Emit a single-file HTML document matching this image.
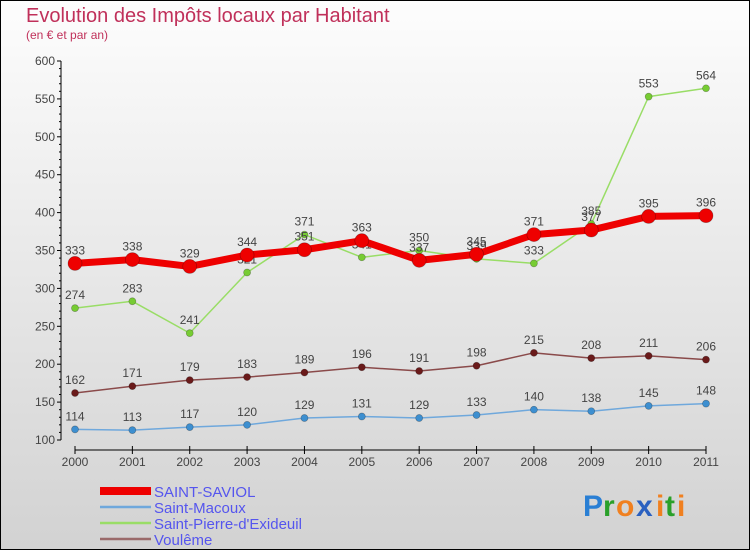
<!DOCTYPE html>
<html><head><meta charset="utf-8"><style>
html,body{margin:0;padding:0}
body{width:750px;height:550px;overflow:hidden;font-family:"Liberation Sans",sans-serif}
svg{display:block}
</style></head><body>
<svg id="chart" width="750" height="550" viewBox="0 0 750 550">
<defs><linearGradient id="bg" x1="0" y1="0" x2="0" y2="1"><stop offset="0" stop-color="#fdfdfd"/><stop offset="1" stop-color="#d2d2d2"/></linearGradient></defs>
<rect x="0.5" y="0.5" width="749" height="549" fill="url(#bg)" stroke="#000"/>
<text x="26" y="22" font-size="20" fill="#c0305a">Evolution des Impôts locaux par Habitant</text>
<text x="26" y="39" font-size="12" fill="#c0305a">(en € et par an)</text>
<g id="axes"></g>
<g id="series"></g>
<g id="legend" font-size="15" fill="#5555ee"></g>
<g font-size="30" font-weight="bold">
<text x="583" y="516" fill="#2a7fd4">P</text><text x="603" y="516" fill="#2aa02a">r</text><text x="616" y="516" fill="#f08020">o</text><text x="636" y="516" fill="#2a60c0">x</text><text x="656" y="516" fill="#f08020">i</text><text x="665" y="516" fill="#2aa02a">t</text><text x="677" y="516" fill="#f08020">i</text>
</g>
</svg>
<script>
const years=['2000','2001','2002','2003','2004','2005','2006','2007','2008','2009','2010','2011'];
const yTicks=[100,150,200,250,300,350,400,450,500,550,600];
const saintSaviol=[333,338,329,344,351,363,337,345,371,377,395,396];
const saintMacoux=[114,113,117,120,129,131,129,133,140,138,145,148];
const saintPierre=[274,283,241,321,371,341,350,339,333,385,553,564];
const voulême=[162,171,179,183,189,196,191,198,215,208,211,206];
const NS='http://www.w3.org/2000/svg';
const x=i=>75+i*(706-75)/(years.length-1);
const y=v=>440-(v-100)*(440-61)/500;
function mk(tag,attrs,parent){const e=document.createElementNS(NS,tag);for(const k in attrs)e.setAttribute(k,attrs[k]);parent.appendChild(e);return e;}
const axes=document.getElementById('axes');
const ya=mk('line',{x1:61,y1:61,x2:61,y2:440,stroke:'#000'},axes);


yTicks.forEach(t=>{
 const tk=mk('line',{x1:57,y1:y(t),x2:61,y2:y(t),stroke:'#000'},axes);
 
 
 const lb=mk('text',{x:55,y:y(t)+4,'font-size':12,fill:'#444','text-anchor':'end'},axes);
 lb.textContent=t;
 
 
});
for(let v=110;v<600;v+=10){if(v%50){const m=mk('line',{x1:59,y1:y(v),x2:61,y2:y(v),stroke:'#000'},axes);
 
 }}
const xa=mk('line',{x1:75,y1:450,x2:706,y2:450,stroke:'#000'},axes);


years.forEach((yr,i)=>{
 const tk=mk('line',{x1:x(i),y1:446,x2:x(i),y2:454,stroke:'#000'},axes);
 
 
 const lb=mk('text',{x:x(i),y:466,'font-size':12,fill:'#444','text-anchor':'middle'},axes);
 lb.textContent=yr;
 
 
});
const seriesG=document.getElementById('series');
function draw(data,color,dot,w,r,name){
 const g=mk('g',{},seriesG);
 
 
 const p=mk('polyline',{points:data.map((v,i)=>x(i)+','+y(v)).join(' '),fill:'none',stroke:color,'stroke-width':w,'stroke-linejoin':'round'},g);
 
 
 data.forEach((v,i)=>{
  const c=mk('circle',{cx:x(i),cy:y(v),r:r,fill:dot,stroke:'rgba(0,0,0,0.3)','stroke-width':0.7},g);
  
  
  const t=mk('text',{x:x(i),y:y(v)-9,'font-size':12,fill:'#444','text-anchor':'middle'},g);
  t.textContent=v;
  
  
 });
}
draw(saintMacoux,'#6fa8dc','#3d8fd0',1.5,3.5,'saint-macoux');
draw(voulême,'#8a4a4a','#6a1a1a',1.5,3.5,'voulême');
draw(saintPierre,'#99dd66','#77cc33',1.5,3.5,'saint-pierre');
draw(saintSaviol,'#ee0000','#ee0000',7,7,'saint-saviol');
const leg=document.getElementById('legend');
[['SAINT-SAVIOL','#ee0000',8],['Saint-Macoux','#6fa8dc',2.5],['Saint-Pierre-d\'Exideuil','#99dd66',2.5],['Voulême','#9a6a6a',2.5]].forEach((e,i)=>{
 const yy=491+i*16;
 const l=mk('line',{x1:100,y1:yy,x2:151,y2:yy,stroke:e[1],'stroke-width':e[2]},leg);
 
 
 const t=mk('text',{x:154,y:yy+6},leg);
 t.textContent=e[0];
 
 
});
</script>
</body></html>
